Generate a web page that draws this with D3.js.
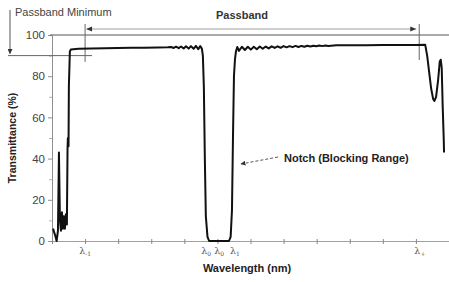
<!DOCTYPE html>
<html>
<head>
<meta charset="utf-8">
<script src="https://cdn.jsdelivr.net/npm/d3@7"></script>
<style>
    body { margin: 0; background: #ffffff; }
    svg { display: block; font-family: "Liberation Sans", Arial, sans-serif; }
</style>
</head>
<body>
<div id="chart"></div>
<script>
// wavelength in axis units (one unit per x tick), transmittance in %
var wavelength = [
    0.03, 0.09, 0.14, 0.18, 0.21, 0.24, 0.27, 0.30, 0.33, 0.36, 0.39, 0.42, 0.45, 0.47, 0.48, 0.50, 0.51, 0.54, 0.57,
    0.80, 1.20, 1.60, 2.00, 2.40, 2.80, 3.20, 3.50,
    3.60, 3.68, 3.75, 3.83, 3.90, 3.98, 4.05, 4.13, 4.20, 4.28, 4.35, 4.42, 4.48, 4.53,
    4.56, 4.59, 4.62, 4.65, 4.70, 4.75, 4.80, 5.20, 5.35, 5.40, 5.44, 5.47, 5.50, 5.53, 5.56,
    5.60, 5.65, 5.74, 5.83, 5.92, 6.01, 6.10, 6.19, 6.28, 6.37, 6.46, 6.55, 6.64, 6.73, 6.82, 6.91,
    7.00, 7.09, 7.18, 7.27, 7.36, 7.45, 7.54, 7.63, 7.72, 7.81, 7.90, 7.99, 8.08, 8.17, 8.26, 8.35,
    8.60, 9.00, 9.50, 10.00, 10.50, 11.00, 11.28,
    11.34, 11.40, 11.46, 11.52, 11.56, 11.61, 11.67, 11.72, 11.75, 11.78, 11.81, 11.84, 11.85
];

var transmittance = [
    6, 3, 0, 5, 43, 10, 5, 14, 6, 12, 6, 13, 8, 45, 50, 46, 75, 92, 93,
    93.3, 93.5, 93.6, 93.7, 93.8, 93.8, 93.9, 94.0,
    94.2, 93.7, 94.3, 93.6, 94.4, 93.5, 94.5, 93.4, 94.6, 93.3, 94.7, 93.1, 94.6, 93.4,
    90, 75, 40, 12, 2, 0, 0, 0, 0, 2, 15, 50, 80, 88, 92,
    94.2, 92.3, 94.3, 92.7, 94.3, 92.9, 94.3, 93.1, 94.4, 93.3, 94.4, 93.5, 94.5, 93.7, 94.5, 93.8,
    94.6, 94.0, 94.6, 94.1, 94.7, 94.2, 94.7, 94.3, 94.8, 94.4, 94.8, 94.5, 94.9, 94.6, 94.9, 94.7,
    95.0, 95.0, 95.0, 95.1, 95.1, 95.2, 95.3,
    90, 82, 74, 69, 68, 70, 78, 87, 88, 84, 65, 50, 43
];

var x_ticks = [0, 1, 2, 3, 4, 5, 6, 7, 8, 9, 10, 11, 12];
var y_major_ticks = [0, 20, 40, 60, 80, 100];
var y_minor_ticks = [10, 30, 50, 70, 90];

var lambda_labels = [
    { pos: 1.00, sub: "-1" },
    { pos: 4.66, sub: "0" },
    { pos: 5.05, sub: "0" },
    { pos: 5.53, sub: "1" },
    { pos: 11.12, sub: "+" }
];

var passband_minimum = 90;
var passband_start = 1.0;
var passband_stop = 11.1;

var chart_width = 449;
var chart_height = 282;

var svg = d3.select("#chart").append("svg")
            .attr("width", chart_width)
            .attr("height", chart_height);

var x_scale = d3.scaleLinear().domain([0, 12]).range([52, 449]);
var y_scale = d3.scaleLinear().domain([0, 100]).range([241, 35]);

draw_axes();
draw_annotations();
draw_curve();

function draw_axes()
{
    // x axis: plain line with small crossing ticks
    var x_axis = d3.axisBottom(x_scale)
                   .tickValues(x_ticks)
                   .tickSizeInner(3)
                   .tickSizeOuter(0)
                   .tickFormat("");

    var x_group = svg.append("g")
                     .attr("transform", "translate(0," + y_scale(0) + ")")
                     .call(x_axis);
    x_group.select(".domain").attr("stroke", "#a0a0a0").attr("stroke-width", 1.2);
    x_group.selectAll(".tick line").attr("stroke", "#888").attr("y1", -2);

    // y axis
    var y_axis = d3.axisLeft(y_scale)
                   .tickValues(y_major_ticks)
                   .tickSizeInner(4)
                   .tickSizeOuter(0)
                   .tickPadding(3);

    var y_group = svg.append("g")
                     .attr("transform", "translate(" + x_scale(0) + ",0)")
                     .call(y_axis);
    y_group.select(".domain").attr("stroke", "#909090");
    y_group.selectAll(".tick line").attr("stroke", "#909090");
    y_group.selectAll(".tick text")
           .attr("font-size", 11.5)
           .attr("fill", "#444")
           .attr("font-family", "Liberation Sans, Arial, sans-serif");

    var y_minor = d3.axisLeft(y_scale)
                    .tickValues(y_minor_ticks)
                    .tickSizeInner(3)
                    .tickSizeOuter(0)
                    .tickFormat("");

    var y_minor_group = svg.append("g")
                           .attr("transform", "translate(" + x_scale(0) + ",0)")
                           .call(y_minor);
    y_minor_group.select(".domain").remove();
    y_minor_group.selectAll(".tick line").attr("stroke", "#b0b0b0");

    // line at 100 %
    svg.append("line")
       .attr("x1", x_scale(0) - 2)
       .attr("x2", chart_width)
       .attr("y1", y_scale(100))
       .attr("y2", y_scale(100))
       .attr("stroke", "#555")
       .attr("stroke-width", 1);

    // lambda labels under the x axis
    var labels = svg.append("g");
    for (var index in lambda_labels)
    {
        var item = lambda_labels[index];
        var label = labels.append("text")
                          .attr("x", x_scale(item.pos))
                          .attr("y", 254)
                          .attr("text-anchor", "middle")
                          .attr("font-family", "DejaVu Serif, serif")
                          .attr("font-size", 9.5)
                          .attr("fill", "#555");
        label.append("tspan").text("λ");
        label.append("tspan")
             .attr("dy", 2)
             .attr("font-size", 6)
             .text(item.sub);
    }

    svg.append("text")
       .attr("x", 247)
       .attr("y", 272)
       .attr("text-anchor", "middle")
       .attr("font-size", 11)
       .attr("font-weight", "bold")
       .attr("fill", "#222")
       .text("Wavelength (nm)");

    svg.append("text")
       .attr("transform", "translate(16,138)rotate(-90)")
       .attr("text-anchor", "middle")
       .attr("font-size", 10.5)
       .attr("font-weight", "bold")
       .attr("fill", "#222")
       .text("Transmittance (%)");
}

function draw_annotations()
{
    var defs = svg.append("defs");
    defs.append("marker")
        .attr("id", "head")
        .attr("viewBox", "0 0 10 10")
        .attr("refX", 9)
        .attr("refY", 5)
        .attr("markerWidth", 5)
        .attr("markerHeight", 5)
        .attr("orient", "auto-start-reverse")
        .append("path")
        .attr("d", "M0,0L10,5L0,10Z")
        .attr("fill", "#333");

    var min_y = y_scale(passband_minimum);

    // passband minimum
    svg.append("text")
       .attr("x", 15)
       .attr("y", 16)
       .attr("font-size", 11)
       .attr("fill", "#444")
       .text("Passband Minimum");

    svg.append("line")
       .attr("x1", 10).attr("x2", 10)
       .attr("y1", 10).attr("y2", min_y - 2)
       .attr("stroke", "#555")
       .attr("marker-end", "url(#head)");

    svg.append("line")
       .attr("x1", 8)
       .attr("x2", x_scale(passband_start) + 7)
       .attr("y1", min_y).attr("y2", min_y)
       .attr("stroke", "#666");

    // passband range
    var start_x = x_scale(passband_start);
    var stop_x = x_scale(passband_stop);

    svg.append("line")
       .attr("x1", start_x).attr("x2", start_x)
       .attr("y1", 24).attr("y2", 62)
       .attr("stroke", "#666");

    svg.append("line")
       .attr("x1", stop_x).attr("x2", stop_x)
       .attr("y1", 24).attr("y2", 60)
       .attr("stroke", "#666");

    svg.append("line")
       .attr("x1", start_x + 2).attr("x2", stop_x - 3)
       .attr("y1", 29).attr("y2", 29)
       .attr("stroke", "#cfcfcf")
       .attr("stroke-width", 2);

    svg.append("path")
       .attr("d", "M" + (start_x + 1) + ",29l6,-2.5v5z")
       .attr("fill", "#333");
    svg.append("path")
       .attr("d", "M" + (stop_x - 3) + ",29l-6,-2.5v5z")
       .attr("fill", "#333");

    svg.append("text")
       .attr("x", 242)
       .attr("y", 19)
       .attr("text-anchor", "middle")
       .attr("font-size", 11)
       .attr("font-weight", "bold")
       .attr("fill", "#333")
       .text("Passband");

    // notch label
    svg.append("line")
       .attr("x1", 278).attr("y1", 157)
       .attr("x2", 241).attr("y2", 164)
       .attr("stroke", "#555")
       .attr("stroke-dasharray", "3,2")
       .attr("marker-end", "url(#head)");

    svg.append("text")
       .attr("x", 284)
       .attr("y", 162)
       .attr("font-size", 11)
       .attr("font-weight", "bold")
       .attr("fill", "#222")
       .text("Notch (Blocking Range)");
}

function draw_curve()
{
    var points = d3.zip(wavelength, transmittance);

    var line = d3.line()
                 .x(function (d) { return x_scale(d[0]); })
                 .y(function (d) { return y_scale(d[1]); });

    svg.append("path")
       .datum(points)
       .attr("d", line)
       .attr("fill", "none")
       .attr("stroke", "#111")
       .attr("stroke-width", 2)
       .attr("stroke-linejoin", "round");
}
</script>
</body>
</html>
